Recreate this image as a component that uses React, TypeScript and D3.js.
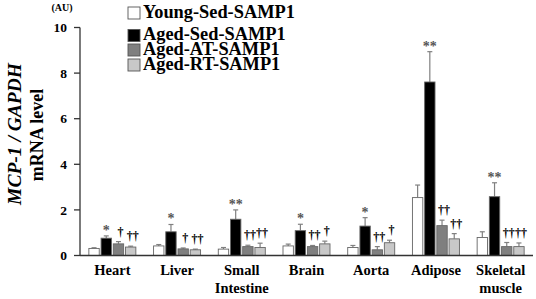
import React from "react";
import * as d3 from "d3";

const categories = ["Heart", "Liver", "Small\nIntestine", "Brain", "Aorta", "Adipose", "Skeletal\nmuscle"];
const seriesNames = ["Young-Sed-SAMP1", "Aged-Sed-SAMP1", "Aged-AT-SAMP1", "Aged-RT-SAMP1"];
const seriesColors = ["#ffffff", "#000000", "#7f7f7f", "#c8c8c8"];

const youngSed = [0.31, 0.42, 0.28, 0.42, 0.35, 2.54, 0.79];
const agedSed = [0.76, 1.04, 1.59, 1.09, 1.29, 7.61, 2.58];
const agedAT = [0.51, 0.29, 0.39, 0.39, 0.25, 1.31, 0.39];
const agedRT = [0.37, 0.25, 0.35, 0.51, 0.56, 0.73, 0.39];

const youngSedErr = [0.03, 0.06, 0.07, 0.08, 0.09, 0.55, 0.25];
const agedSedErr = [0.1, 0.32, 0.41, 0.28, 0.37, 1.33, 0.61];
const agedATErr = [0.1, 0.04, 0.06, 0.05, 0.14, 0.24, 0.18];
const agedRTErr = [0.04, 0.03, 0.19, 0.12, 0.11, 0.23, 0.16];

const agedSedMarks = ["*", "*", "**", "*", "*", "**", "**"];
const agedATMarks = ["†", "†", "††", "††", "††", "††", "††"];
const agedRTMarks = ["††", "††", "††", "†", "†", "††", "††"];

const yTicks = [0, 2, 4, 6, 8, 10];

const values = [youngSed, agedSed, agedAT, agedRT];
const errors = [youngSedErr, agedSedErr, agedATErr, agedRTErr];
const marks = [null, agedSedMarks, agedATMarks, agedRTMarks];

export default function App() {
  const W = 536, H = 299;
  const x0 = 80, x1r = 533;
  const y = d3.scaleLinear().domain([0, 10]).range([255.5, 27.5]);
  const xg = d3.scaleBand<string>().domain(categories).range([x0, x1r]);
  const groupW = 47;
  const xs = d3.scaleBand<string>().domain(seriesNames).range([0, groupW]).paddingInner(0.15);
  const font = "'Liberation Serif', 'Times New Roman', serif";

  return (
    <svg width={W} height={H} style={{ position: "absolute", left: 0, top: 0 }} fontFamily={font}>
      <rect width={W} height={H} fill="#fff" />
      {/* y axis */}
      <line x1={x0} x2={x0} y1={y(10)} y2={y(0)} stroke="#333" strokeWidth={1.3} />
      {yTicks.map((t) => (
        <g key={t}>
          <line x1={x0 - 6} x2={x0} y1={y(t)} y2={y(t)} stroke="#333" strokeWidth={1.3} />
          <text x={67} y={y(t)} dy="0.35em" textAnchor="end" fontSize={13.5} fontWeight="bold">{t}</text>
        </g>
      ))}
      <text x={62} y={11} textAnchor="middle" fontSize={10} fontWeight="bold">(AU)</text>
      <g transform={`translate(21,134) rotate(-90)`}>
        <text textAnchor="middle" fontSize={19.5} fontWeight="bold" fontStyle="italic">MCP-1 / GAPDH</text>
      </g>
      <g transform={`translate(43,135) rotate(-90)`}>
        <text textAnchor="middle" fontSize={18} fontWeight="bold">mRNA level</text>
      </g>
      {/* bars */}
      {categories.map((c, ci) => {
        const gx = (xg(c) as number) + xg.bandwidth() / 2 - groupW / 2;
        return (
          <g key={c}>
            {seriesNames.map((s, si) => {
              const v = values[si][ci];
              const e = errors[si][ci];
              const bx = gx + (xs(s) as number);
              const bw = xs.bandwidth();
              const cx = bx + bw / 2;
              const top = y(v + e);
              const m = marks[si] ? (marks[si] as string[])[ci] : null;
              return (
                <g key={s}>
                  <line x1={cx} x2={cx} y1={y(v)} y2={top} stroke="#808080" strokeWidth={1.2} />
                  <line x1={cx - 2.5} x2={cx + 2.5} y1={top} y2={top} stroke="#808080" strokeWidth={1.2} />
                  <rect x={bx} y={y(v)} width={bw} height={y(0) - y(v)} fill={seriesColors[si]} stroke="#666" strokeWidth={0.9} />
                  {m && m.includes("*") && (
                    <text x={cx} y={top - 1} textAnchor="middle" fontSize={14} fontWeight="bold" fill="#555">{m}</text>
                  )}
                  {m && m.includes("†") && (
                    <text x={cx + 2} y={top - 6} textAnchor="middle" fontSize={12} fontWeight="bold" fill="#000">{m}</text>
                  )}
                </g>
              );
            })}
            {c.split("\n").map((line, li) => (
              <text key={li} x={(xg(c) as number) + xg.bandwidth() / 2} y={275 + li * 18} textAnchor="middle" fontSize={14.5} fontWeight="bold">{line}</text>
            ))}
          </g>
        );
      })}
      {/* x axis */}
      <line x1={x0} x2={x1r} y1={y(0)} y2={y(0)} stroke="#333" strokeWidth={1.3} />
      {/* legend */}
      {seriesNames.map((s, i) => {
        const cy = [13, 35.5, 50, 65][i];
        return (
          <g key={s}>
            <rect x={128} y={cy - 6} width={12} height={12} fill={seriesColors[i]} stroke="#555" strokeWidth={0.9} />
            <text x={143} y={cy + 5} fontSize={17} fontWeight="bold" transform={`translate(143,${cy + 5}) scale(1.08,1.1) translate(-143,${-(cy + 5)})`}>{s}</text>
          </g>
        );
      })}
    </svg>
  );
}
